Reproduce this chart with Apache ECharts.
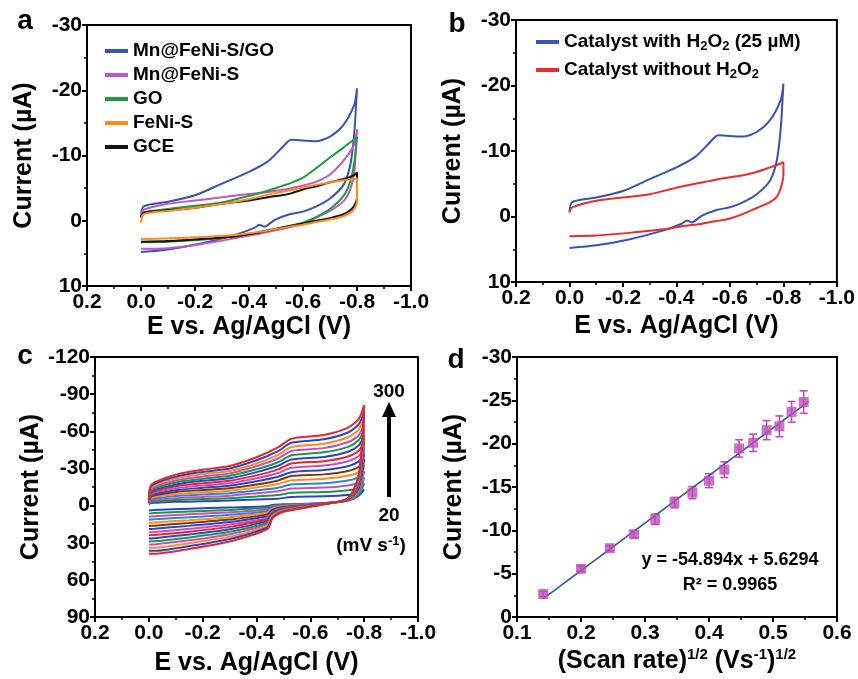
<!DOCTYPE html>
<html>
<head>
<meta charset="utf-8">
<script src="https://cdn.jsdelivr.net/npm/echarts@6/dist/echarts.min.js"></script>
<style>
	html, body { margin: 0; padding: 0; background: #fff; }
	#main { width: 858px; height: 679px; }
</style>
</head>
<body>
<div id="main"></div>
<script>
	const FONT = '"Liberation Sans", Arial, Helvetica, sans-serif';

	// ---- panels a & b : potential grids (V), forward sweep then reverse sweep
	const abFwdE = [0, -0.01, -0.1, -0.2, -0.3, -0.4, -0.47, -0.52, -0.556, -0.6, -0.65, -0.7, -0.75, -0.79, -0.8];
	const abRevE = [-0.8, -0.79, -0.775, -0.75, -0.7, -0.65, -0.6, -0.55, -0.494, -0.457, -0.438, -0.42, -0.346, -0.222, -0.1, 0];

	// currents (µA)
	const mnGoFwd = [-0.6, -2.2, -2.9, -3.9, -5.7, -7.5, -9.1, -11.1, -12.4, -12.3, -12.2, -12.9, -14.7, -17.8, -20.3];
	const mnGoRev = [-20.3, -13.5, -8.5, -5.5, -3.4, -2.2, -1.4, -1.0, -0.1, 0.9, 0.6, 1.1, 2.2, 3.5, 4.4, 4.8];
	const mnFwd = [-1.0, -1.7, -2.6, -3.1, -3.6, -4.1, -4.4, -4.7, -5.0, -5.4, -6.0, -7.1, -9.2, -11.7, -14.0];
	const mnRev = [-14.0, -7.5, -4.8, -3.0, -1.5, -0.5, 0.5, 1.0, 1.5, 1.8, 2.0, 2.1, 2.7, 3.6, 4.2, 4.3];
	const goFwd = [-0.5, -1.3, -1.8, -2.3, -2.8, -3.8, -4.6, -5.3, -5.8, -6.6, -8.1, -9.7, -11.2, -12.5, -12.8];
	const goRev = [-12.8, -9.0, -6.0, -3.8, -1.8, -0.6, 0.3, 0.8, 1.3, 1.6, 1.7, 1.9, 2.4, 2.9, 3.2, 3.3];
	const fenisFwd = [0.3, -1.0, -1.5, -2.0, -2.6, -3.3, -4.0, -4.4, -4.7, -5.1, -5.5, -5.9, -6.2, -6.4, -6.5];
	const fenisRev = [-3.0, -1.8, -1.2, -0.7, -0.2, 0.2, 0.6, 0.9, 1.3, 1.6, 1.7, 1.8, 2.2, 2.5, 2.7, 2.8];
	const gceFwd = [-0.5, -1.2, -1.6, -2.0, -2.6, -3.1, -3.6, -3.9, -4.2, -4.8, -5.3, -5.9, -6.4, -7.0, -7.4];
	const gceRev = [-3.5, -2.3, -1.6, -1.0, -0.4, 0.0, 0.4, 0.8, 1.3, 1.6, 1.8, 1.9, 2.4, 2.8, 3.1, 3.2];
	const noH2o2Fwd = [-0.8, -1.4, -2.4, -2.9, -3.4, -4.4, -5.0, -5.4, -5.7, -6.0, -6.3, -6.8, -7.5, -8.1, -8.3];
	const noH2o2Rev = [-6.5, -4.3, -3.0, -2.2, -1.3, -0.4, 0.3, 0.7, 1.1, 1.3, 1.4, 1.5, 2.0, 2.5, 2.9, 3.0];

	// ---- panel c : scan rates 20..300 mV/s
	const cRates = [20, 40, 60, 80, 100, 120, 140, 160, 180, 200, 220, 240, 260, 280, 300];
	const cColors = ['#2b46c2', '#1a9a3c', '#c44fc4', '#2288d8', '#ff8a1c', '#7a3b12', '#2b46c2', '#c44fc4',
		'#e8262a', '#2b46c2', '#1a9a3c', '#c44fc4', '#ff8a1c', '#2b46c2', '#e8262a'];
	const cFwdE = [0, -0.01, -0.1, -0.2, -0.3, -0.4, -0.48, -0.53, -0.65, -0.74, -0.78, -0.8];
	const cRevE = [-0.8, -0.78, -0.74, -0.65, -0.5, -0.46, -0.44, -0.3, -0.15, -0.02, 0];
	const cFwd = [
		[-1, -2, -3, -3.5, -4, -5, -5.5, -7, -7.5, -8.5, -10, -13],
		[-1.3, -3, -4.5, -5.3, -6, -7.4, -8.5, -10.4, -11, -12.4, -14.3, -18],
		[-1.6, -4, -6, -7, -8, -10, -11.5, -13.7, -14.6, -16.3, -18.6, -22.7],
		[-1.9, -5, -7.7, -9, -10, -12.3, -14.4, -17, -18, -20.2, -23, -27.6],
		[-2.1, -6.3, -9.3, -10.8, -12, -14.7, -17.4, -20.4, -21.6, -24, -27, -32.4],
		[-2.4, -7.4, -11, -12.6, -14, -17, -20.3, -23.8, -25.2, -28, -31.4, -37.3],
		[-2.7, -8.4, -12.4, -14.4, -16, -19.6, -23.3, -27, -28.7, -31.8, -35.7, -42],
		[-3, -9.5, -14, -16.3, -18, -22, -26.3, -30.5, -32.3, -35.8, -40, -47],
		[-3.3, -10.6, -15.6, -18, -20, -24.4, -29.2, -34, -35.8, -39.6, -44.3, -51.8],
		[-3.6, -11.6, -17, -20, -22, -27, -32.2, -37.2, -39.3, -43.5, -48.6, -56.7],
		[-3.9, -12.7, -18.7, -21.7, -24, -29.3, -35, -40.6, -43, -47.4, -53, -61.6],
		[-4.1, -13.8, -20.3, -23.5, -26, -31.7, -38, -44, -46.4, -51.3, -57, -66.4],
		[-4.4, -15, -22, -25.4, -28, -34, -41, -47.3, -50, -55.2, -61.4, -71.3],
		[-4.7, -16, -23.4, -27.2, -30, -36.6, -44, -50.7, -53.5, -59, -65.7, -76],
		[-5, -17, -25, -29, -32, -39, -47, -54, -57, -63, -70, -81]
	];
	const cRev = [
		[-13, -8, -4, -2, -1, -0.5, 0.5, 1.5, 2.5, 3.5, 4],
		[-18, -9.2, -4.1, -1.9, -0.6, 0.3, 1.8, 3.5, 4.8, 6, 6.5],
		[-22.7, -10.4, -4.3, -1.9, -0.1, 1, 3.1, 5.4, 7.1, 8.6, 9],
		[-27.6, -11.6, -4.4, -1.8, 0.3, 1.8, 4.5, 7.4, 9.5, 11.1, 11.5],
		[-32.4, -12.9, -4.6, -1.7, 0.7, 2.5, 5.8, 9.4, 11.8, 13.6, 14],
		[-37.3, -14.1, -4.7, -1.6, 1.1, 3.3, 7.1, 11.3, 14.1, 16.2, 16.5],
		[-42, -15.3, -4.9, -1.6, 1.6, 4, 8.4, 13.3, 16.4, 18.7, 19],
		[-47, -16.5, -5, -1.5, 2, 4.8, 9.8, 15.3, 18.8, 21.3, 21.5],
		[-51.8, -17.7, -5.1, -1.4, 2.4, 5.5, 11.1, 17.2, 21.1, 23.8, 24],
		[-56.7, -18.9, -5.3, -1.4, 2.9, 6.3, 12.4, 19.2, 23.4, 26.3, 26.5],
		[-61.6, -20.1, -5.4, -1.3, 3.3, 7, 13.7, 21.2, 25.7, 28.9, 29],
		[-66.4, -21.4, -5.6, -1.2, 3.7, 7.8, 15, 23.1, 28.1, 31.4, 31.5],
		[-71.3, -22.6, -5.7, -1.1, 4.1, 8.5, 16.4, 25.1, 30.4, 34, 34],
		[-76, -23.8, -5.9, -1.1, 4.6, 9.3, 17.7, 27, 32.7, 36.5, 36.5],
		[-81, -25, -6, -1, 5, 10, 19, 29, 35, 39, 39]
	];

	// ---- panel d : peak current vs sqrt(scan rate)
	const dX = [0.141, 0.2, 0.245, 0.283, 0.316, 0.346, 0.374, 0.4, 0.424, 0.447, 0.469, 0.49, 0.51, 0.529, 0.548];
	const dY = [-2.65, -5.56, -7.94, -9.55, -11.28, -13.2, -14.35, -15.73, -17.0, -19.45, -20.1, -21.56, -22.0, -23.67, -24.8];
	const dErr = [0.3, 0.3, 0.3, 0.4, 0.6, 0.6, 0.7, 0.8, 0.9, 1.0, 1.0, 1.1, 1.2, 1.2, 1.3];
	const fitSlope = -54.894, fitIntercept = 5.6294;
	const fitRange = [0.141, 0.556];

	function pairs (xs, ys) {
		return xs.map((x, i) => [x, ys[i]]);
	}
	function loop (fe, fv, re, rv) {
		return pairs(fe, fv).concat(pairs(re, rv));
	}

	const tickLabel = {
		fontSize: 21, fontWeight: 'bold', color: '#000', fontFamily: FONT
	};
	const nameStyle = {
		fontSize: 25, fontWeight: 'bold', color: '#000', fontFamily: FONT
	};
	const axisCommon = {
		type: 'value',
		axisLine: { show: true, onZero: false, lineStyle: { color: '#000', width: 2 } },
		axisTick: { show: true, inside: false, length: 5, lineStyle: { color: '#000', width: 2 } },
		minorTick: { show: true, splitNumber: 2, length: 3, lineStyle: { color: '#000', width: 1.5 } },
		splitLine: { show: false },
		nameLocation: 'middle',
		nameTextStyle: nameStyle
	};

	function cvX (grid, gap) {
		return Object.assign({}, axisCommon, {
			gridIndex: grid, min: -1, max: 0.2, interval: 0.2, inverse: true,
			name: 'E vs. Ag/AgCl (V)', nameGap: gap,
			axisLabel: Object.assign({ margin: 6, showMinLabel: true, showMaxLabel: true,
				formatter: v => (Math.abs(v) < 1e-9 ? '0.0' : v.toFixed(1)) }, tickLabel)
		});
	}
	function curY (grid, min, max, interval) {
		return Object.assign({}, axisCommon, {
			gridIndex: grid, min, max, interval, inverse: true,
			name: 'Current (µA)', nameGap: 50,
			axisLabel: Object.assign({ margin: 5, showMinLabel: true, showMaxLabel: true }, tickLabel)
		});
	}

	const gridStyle = { show: true, borderColor: '#000', borderWidth: 2, backgroundColor: 'transparent' };

	const lineSeries = (name, xi, data, color, width) => ({
		name, type: 'line', xAxisIndex: xi, yAxisIndex: xi, data,
		symbol: 'none', smooth: 0.25, color,
		lineStyle: { color, width: width || 2 }
	});

	const series = [
		lineSeries('Mn@FeNi-S/GO', 0, loop(abFwdE, mnGoFwd, abRevE, mnGoRev), '#3a52b4'),
		lineSeries('Mn@FeNi-S', 0, loop(abFwdE, mnFwd, abRevE, mnRev), '#c157c1'),
		lineSeries('GO', 0, loop(abFwdE, goFwd, abRevE, goRev), '#1f9a3e'),
		lineSeries('GCE', 0, loop(abFwdE, gceFwd, abRevE, gceRev), '#111111'),
		lineSeries('FeNi-S', 0, loop(abFwdE, fenisFwd, abRevE, fenisRev), '#ff8c1a'),
		lineSeries('Catalyst with H2O2 (25 µM)', 1, loop(abFwdE, mnGoFwd, abRevE, mnGoRev), '#3a52b4'),
		lineSeries('Catalyst without H2O2', 1, loop(abFwdE, noH2o2Fwd, abRevE, noH2o2Rev), '#ee2a2a')
	];
	cRates.forEach((r, i) => {
		series.push(lineSeries(r + ' mV/s', 2, loop(cFwdE, cFwd[i], cRevE, cRev[i]), cColors[i], 2));
	});
	series.push({
		name: 'error', type: 'custom', xAxisIndex: 3, yAxisIndex: 3,
		data: dX.map((x, i) => [x, dY[i] - dErr[i], dY[i] + dErr[i]]),
		encode: { x: 0, y: [1, 2] },
		renderItem (params, api) {
			const p1 = api.coord([api.value(0), api.value(1)]);
			const p2 = api.coord([api.value(0), api.value(2)]);
			const w = 4;
			const style = { stroke: '#bf4fb7', lineWidth: 1.6 };
			return {
				type: 'group',
				children: [
					{ type: 'line', shape: { x1: p1[0], y1: p1[1], x2: p2[0], y2: p2[1] }, style },
					{ type: 'line', shape: { x1: p1[0] - w, y1: p1[1], x2: p1[0] + w, y2: p1[1] }, style },
					{ type: 'line', shape: { x1: p2[0] - w, y1: p2[1], x2: p2[0] + w, y2: p2[1] }, style }
				]
			};
		}
	});
	series.push({
		name: 'fit', type: 'line', xAxisIndex: 3, yAxisIndex: 3,
		data: fitRange.map(x => [x, fitSlope * x + fitIntercept]),
		symbol: 'none', lineStyle: { color: '#3050b2', width: 1.6 }, z: 3
	});
	series.push({
		name: 'peak', type: 'scatter', xAxisIndex: 3, yAxisIndex: 3,
		data: pairs(dX, dY), symbol: 'rect', symbolSize: 10,
		itemStyle: { color: '#bf4fb7' }, z: 4
	});

	const legendText = {
		fontSize: 19, fontWeight: 'bold', color: '#000', fontFamily: FONT, lineHeight: 22,
		rich: {
			sub: { fontSize: 13, fontWeight: 'bold', fontFamily: FONT, color: '#000', lineHeight: 12, verticalAlign: 'bottom' }
		}
	};

	const supRich = {
		sup: { fontSize: 13, fontWeight: 'bold', fontFamily: FONT, color: '#000', lineHeight: 12, verticalAlign: 'top' }
	};

	const letter = (t, x, y) => ({
		type: 'text', x, y,
		style: { text: t, fontSize: 28, fontWeight: 'bold', fontFamily: FONT, fill: '#000', align: 'center', verticalAlign: 'middle' }
	});
	const note = (t, x, y, size) => ({
		type: 'text', x, y,
		style: {
			text: t, fontSize: size || 19, fontWeight: 'bold', fontFamily: FONT, fill: '#000',
			align: 'center', verticalAlign: 'middle', lineHeight: 22, rich: supRich
		}
	});

	const chart = echarts.init(document.getElementById('main'));
	chart.setOption({
		animation: false,
		backgroundColor: '#fff',
		grid: [
			Object.assign({ left: 87, top: 25, width: 324, height: 261 }, gridStyle),
			Object.assign({ left: 516, top: 20, width: 323, height: 262 }, gridStyle),
			Object.assign({ left: 95, top: 357, width: 323, height: 260 }, gridStyle),
			Object.assign({ left: 517, top: 357, width: 320, height: 260 }, gridStyle)
		],
		xAxis: [
			cvX(0, 29),
			cvX(1, 32),
			cvX(2, 34),
			Object.assign({}, axisCommon, {
				gridIndex: 3, min: 0.1, max: 0.6, interval: 0.1,
				name: '(Scan rate){sup|1/2} (Vs{sup|-1}){sup|1/2}', nameGap: 30,
				nameTextStyle: Object.assign({ lineHeight: 28, rich: {
					sup: { fontSize: 15, fontWeight: 'bold', fontFamily: FONT, color: '#000', lineHeight: 14, verticalAlign: 'top' }
				} }, nameStyle),
				axisLabel: Object.assign({ margin: 6, showMinLabel: true, showMaxLabel: true,
					formatter: v => v.toFixed(1) }, tickLabel)
			})
		],
		yAxis: [
			curY(0, -30, 10, 10),
			curY(1, -30, 10, 10),
			curY(2, -120, 90, 30),
			curY(3, -30, 0, 5)
		],
		legend: [
			{
				data: ['Mn@FeNi-S/GO', 'Mn@FeNi-S', 'GO', 'FeNi-S', 'GCE'],
				left: 105, top: 40, orient: 'vertical', padding: 0,
				icon: 'rect', itemWidth: 23, itemHeight: 4, itemGap: 2,
				textStyle: legendText
			},
			{
				data: ['Catalyst with H2O2 (25 µM)', 'Catalyst without H2O2'],
				left: 536, top: 31, orient: 'vertical', padding: 0,
				icon: 'rect', itemWidth: 23, itemHeight: 4, itemGap: 6,
				textStyle: legendText,
				formatter: name => name.replace(/([HO])2/g, '$1{sub|2}')
			}
		],
		graphic: [
			letter('a', 25, 21),
			letter('b', 457, 24),
			letter('c', 25, 356),
			letter('d', 456, 360),
			note('300', 389, 392),
			{ type: 'line', shape: { x1: 389, y1: 497, x2: 389, y2: 414 }, style: { stroke: '#000', lineWidth: 4 } },
			{ type: 'polygon', shape: { points: [[389, 402], [382, 417], [396, 417]] }, style: { fill: '#000' } },
			note('20', 389, 516),
			note('(mV s{sup|-1})', 371, 546),
			note('y = -54.894x + 5.6294', 730, 560, 18),
			note('R² = 0.9965', 730, 585, 18)
		],
		series
	});
</script>
</body>
</html>
